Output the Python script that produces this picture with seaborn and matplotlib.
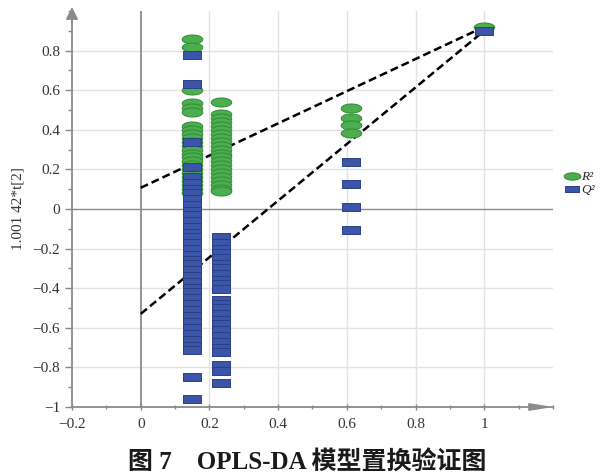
"""
OPLS-DA permutation test plot (R2 / Q2 vs correlation of permuted y).
"""
import numpy as np
import pandas as pd
import matplotlib
matplotlib.use("Agg")
import matplotlib.pyplot as plt
from matplotlib.path import Path
from matplotlib.lines import Line2D
from matplotlib.ticker import MultipleLocator, FuncFormatter
import seaborn as sns

# permuted models: correlation of permuted y with original y
perm_x = [0.15, 0.235, 0.613]

r2_col1 = [0.86, 0.82, 0.60, 0.535, 0.51, 0.49, 0.42, 0.40, 0.38, 0.36, 0.34,
           0.32, 0.30, 0.28, 0.26, 0.24, 0.22, 0.20, 0.18, 0.16, 0.14, 0.12,
           0.10, 0.08]
r2_col2 = [0.54, 0.48, 0.46, 0.44, 0.42, 0.40, 0.38, 0.36, 0.34, 0.32, 0.30,
           0.28, 0.26, 0.24, 0.22, 0.20, 0.18, 0.16, 0.14, 0.12, 0.10, 0.09]
r2_col3 = [0.51, 0.46, 0.425, 0.385]

q2_col1 = [0.78, 0.63, 0.34, 0.21, 0.16, 0.13, 0.10, 0.08, 0.05, 0.02, -0.01,
           -0.03, -0.06, -0.09, -0.12, -0.14, -0.17, -0.20, -0.23, -0.26,
           -0.28, -0.31, -0.34, -0.37, -0.40, -0.42, -0.45, -0.48, -0.51,
           -0.54, -0.57, -0.60, -0.63, -0.66, -0.69, -0.71, -0.85, -0.96]
q2_col2 = [-0.14, -0.17, -0.20, -0.22, -0.25, -0.28, -0.30, -0.33, -0.36,
           -0.38, -0.405, -0.46, -0.48, -0.50, -0.53, -0.56, -0.58, -0.61,
           -0.64, -0.67, -0.70, -0.72, -0.79, -0.82, -0.88]
q2_col3 = [0.236, 0.126, 0.01, -0.106]

# original model
orig_x = 1.0
r2_orig = 0.92
q2_orig = 0.90

# regression intercepts
r2_intercept = 0.107
q2_intercept = -0.53

GREEN, GREEN_EDGE = "#4dae50", "#2f8a36"
BLUE, BLUE_EDGE = "#3b56a8", "#2a3f88"
AXIS_GRAY = "#8a8a8a"

t = np.linspace(0, 2 * np.pi, 60)
ELLIPSE = Path(np.column_stack([np.cos(t), 0.44 * np.sin(t)]), closed=True)
RECT = Path([(-1, -0.42), (1, -0.42), (1, 0.42), (-1, 0.42), (-1, -0.42)],
            closed=True)


def _points(cols, orig):
    xs, ys = [], []
    for x, col in zip(perm_x, cols):
        xs += [x] * len(col)
        ys += list(col)
    xs.append(orig_x)
    ys.append(orig)
    return pd.DataFrame({"x": xs, "y": ys})


def _fmt(v, _):
    v = round(v, 6)
    if v == 0:
        return "0"
    return f"{v:g}".replace("-", "\u2212")


def main():
    sns.set_theme(style="white")
    plt.rcParams["font.family"] = ["Liberation Serif", "Noto Sans CJK SC"]

    fig = plt.figure(figsize=(6.05, 4.76), dpi=100)
    ax = fig.add_axes([0.119, 0.145, 0.795, 0.832])

    r2 = _points([r2_col1, r2_col2, r2_col3], r2_orig)
    q2 = _points([q2_col1, q2_col2, q2_col3], q2_orig)

    # grid + zero lines
    for v in [0.2, 0.4, 0.6, 0.8, 1.0]:
        ax.axvline(v, color="#e2e2e2", lw=1, zorder=0)
    for v in [-0.8, -0.6, -0.4, -0.2, 0.2, 0.4, 0.6, 0.8]:
        ax.axhline(v, color="#e2e2e2", lw=1, zorder=0)
    ax.axvline(0, color=AXIS_GRAY, lw=1.3, zorder=0.5)
    ax.axhline(0, color=AXIS_GRAY, lw=1.0, zorder=0.5)

    # regression lines
    lines = pd.DataFrame({"x": [0, orig_x, 0, orig_x],
                          "y": [r2_intercept, r2_orig, q2_intercept, q2_orig],
                          "s": ["R2", "R2", "Q2", "Q2"]})
    sns.lineplot(data=lines, x="x", y="y", units="s", estimator=None,
                 color="black", lw=1.8, dashes=False, ax=ax, zorder=2,
                 linestyle=(0, (3.2, 1.6)))

    sns.scatterplot(data=r2, x="x", y="y", marker=ELLIPSE, s=220,
                    color=GREEN, edgecolor=GREEN_EDGE, linewidth=0.7,
                    ax=ax, zorder=3, clip_on=False)
    sns.scatterplot(data=q2, x="x", y="y", marker=RECT, s=150,
                    color=BLUE, edgecolor=BLUE_EDGE, linewidth=0.7,
                    ax=ax, zorder=4, clip_on=False)

    ax.set_xlim(-0.2, 1.2)
    ax.set_ylim(-1.0, 1.0)
    ax.set_xticks([-0.2, 0, 0.2, 0.4, 0.6, 0.8, 1.0])
    ax.set_yticks([-1, -0.8, -0.6, -0.4, -0.2, 0, 0.2, 0.4, 0.6, 0.8])
    ax.xaxis.set_minor_locator(MultipleLocator(0.1))
    ax.yaxis.set_minor_locator(MultipleLocator(0.1))
    ax.xaxis.set_major_formatter(FuncFormatter(_fmt))
    ax.yaxis.set_major_formatter(FuncFormatter(_fmt))
    ax.tick_params(axis="both", which="major", labelsize=11,
                   labelcolor="#333333", color=AXIS_GRAY, width=1)
    ax.tick_params(axis="y", which="major", direction="out", length=5, left=True)
    ax.tick_params(axis="y", which="minor", direction="out", length=3,
                   left=True, color=AXIS_GRAY)
    ax.tick_params(axis="x", which="major", direction="inout", length=4,
                   bottom=True, pad=6)
    ax.tick_params(axis="x", which="minor", direction="inout", length=3,
                   bottom=True, color=AXIS_GRAY)

    for side in ["top", "right"]:
        ax.spines[side].set_visible(False)
    for side in ["left", "bottom"]:
        ax.spines[side].set_color(AXIS_GRAY)
        ax.spines[side].set_linewidth(1.3)

    # axis arrows
    ax.annotate("", xy=(0, 1.01), xytext=(0, 0.97), xycoords="axes fraction",
                arrowprops=dict(arrowstyle="-|>,head_length=0.6,head_width=0.3",
                                color=AXIS_GRAY, lw=1.3, shrinkA=0, shrinkB=0))
    ax.annotate("", xy=(1.0, 0), xytext=(0.95, 0), xycoords="axes fraction",
                arrowprops=dict(arrowstyle="-|>,head_length=1.1,head_width=0.18",
                                color=AXIS_GRAY, lw=1.3, shrinkA=0, shrinkB=0))

    ax.set_xlabel("")
    ax.set_ylabel("1.001 42*t[2]", fontsize=11, color="#333333", labelpad=6)

    handles = [
        Line2D([], [], ls="none", marker=ELLIPSE, markersize=12,
               markerfacecolor=GREEN, markeredgecolor=GREEN_EDGE, mew=0.7),
        Line2D([], [], ls="none", marker=RECT, markersize=10.5,
               markerfacecolor=BLUE, markeredgecolor=BLUE_EDGE, mew=0.7),
    ]
    ax.legend(handles, ["R\u00b2", "Q\u00b2"], loc="center left",
              bbox_to_anchor=(0.935, 0.614), bbox_transform=fig.transFigure,
              frameon=False, handlelength=1.0, handletextpad=0.15,
              labelspacing=0.05, borderpad=0, borderaxespad=0,
              prop={"style": "italic", "size": 9.5})

    fig.text(0.508, 0.03, "图 7\u3000OPLS-DA 模型置换验证图", ha="center",
             va="center", fontsize=18, fontweight="bold", color="#1a1a1a")

    fig.savefig("out.png", dpi=100)
    plt.close(fig)


if __name__ == "__main__":
    main()
